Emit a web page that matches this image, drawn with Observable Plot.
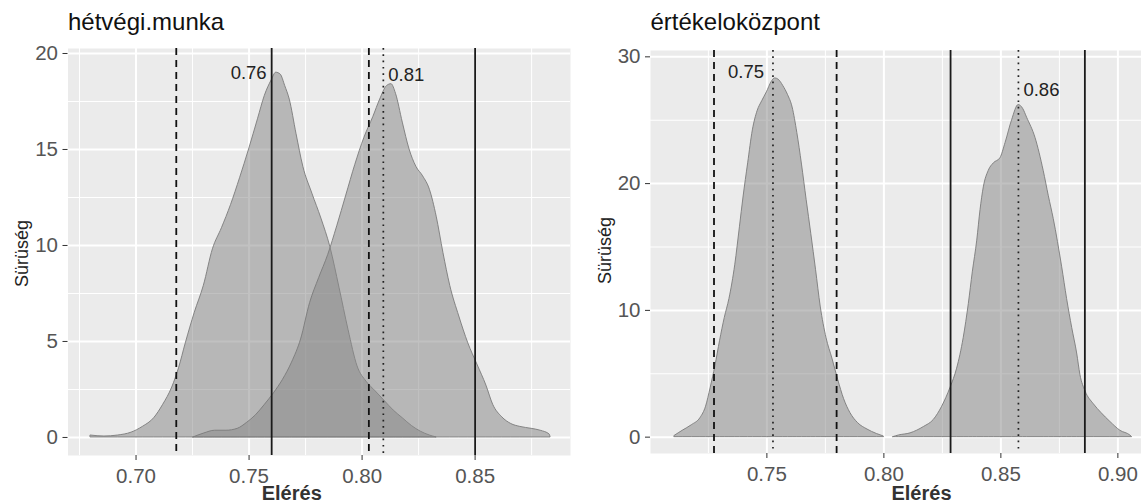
<!DOCTYPE html>
<html>
<head>
<meta charset="utf-8">
<script src="https://cdn.jsdelivr.net/npm/d3@7"></script>
<script src="https://cdn.jsdelivr.net/npm/@observablehq/plot@0.6"></script>
<style>
  html, body { margin: 0; padding: 0; background: #fff; }
  #wrap { position: relative; width: 1141px; height: 504px; overflow: hidden; background: #fff; }
  #left, #right { position: absolute; top: 0; }
  #left { left: 0; }
  #right { left: 570px; }
</style>
</head>
<body>
<div id="wrap"><div id="left"></div><div id="right"></div></div>
<script>
// ---------- DATA ----------
const titles = ["hétvégi.munka", "értékeloközpont"];
const xLabel = "Elérés";
const yLabel = "Sürüség";

// left panel (hétvégi.munka): two posterior densities
const leftA_x = [0.680,0.686,0.692,0.698,0.703,0.708,0.712,0.716,0.719,0.722,0.726,0.730,0.734,0.738,0.742,0.746,0.750,0.754,0.757,0.760,0.762,0.764,0.766,0.768,0.771,0.774,0.778,0.782,0.786,0.790,0.794,0.798,0.802,0.806,0.810,0.814,0.818,0.822,0.826,0.830,0.833];
const leftA_d = [0.1,0.05,0.1,0.25,0.55,1.0,1.7,2.6,3.6,4.9,6.5,7.9,9.8,10.9,12.1,13.5,15.0,16.6,17.8,18.6,19.0,18.9,18.3,17.6,15.8,14.1,12.7,11.4,9.9,7.8,5.6,3.7,2.9,2.4,1.9,1.4,1.0,0.6,0.3,0.1,0.0];
const leftB_x = [0.7254,0.730,0.735,0.740,0.745,0.749,0.753,0.757,0.761,0.765,0.769,0.773,0.777,0.781,0.785,0.789,0.793,0.797,0.801,0.805,0.808,0.811,0.813,0.815,0.818,0.821,0.824,0.827,0.830,0.833,0.836,0.839,0.843,0.847,0.851,0.855,0.858,0.862,0.866,0.870,0.875,0.879,0.883,0.8834];
const leftB_d = [0.0,0.2,0.35,0.35,0.45,0.75,1.15,1.7,2.3,3.0,3.9,5.1,7.0,8.3,9.5,11.0,12.6,14.2,15.6,16.7,17.6,18.3,18.4,17.9,16.4,15.0,14.1,13.6,12.9,11.5,9.6,7.9,6.3,4.9,3.8,2.7,1.7,1.05,0.7,0.55,0.45,0.35,0.15,0.0];
const leftDashed = [0.7178, 0.803];
const leftSolid = [0.760, 0.850];
const leftDotted = [0.8094];
const leftLabels = [{x: 0.760, y: 19.0, t: "0.76", side: "end"}, {x: 0.8094, y: 18.85, t: "0.81", side: "start"}];
const leftXTicks = [0.70, 0.75, 0.80, 0.85];
const leftXMinor = [0.675, 0.725, 0.775, 0.825, 0.875];
const leftYTicks = [0, 5, 10, 15, 20];
const leftYMinor = [2.5, 7.5, 12.5, 17.5];

// right panel (értékeloközpont)
const rightC_x = [0.7106,0.714,0.718,0.7216,0.724,0.726,0.728,0.730,0.732,0.734,0.7365,0.7385,0.740,0.742,0.744,0.746,0.748,0.750,0.752,0.7535,0.755,0.757,0.759,0.761,0.763,0.765,0.767,0.769,0.771,0.773,0.7755,0.778,0.7805,0.783,0.7857,0.789,0.793,0.797,0.800];
const rightC_d = [0.1,0.5,0.95,1.5,2.4,3.9,5.6,7.6,9.4,10.9,13.6,16.6,18.9,21.6,24.2,25.7,26.5,27.2,28.0,28.3,28.2,27.7,27.0,26.0,24.0,21.5,18.7,16.0,13.2,10.3,7.8,6.2,4.5,3.0,1.9,1.1,0.6,0.25,0.05];
const rightD_x = [0.8040,0.8064,0.8114,0.8171,0.8213,0.8249,0.8285,0.8313,0.8341,0.8363,0.838,0.8399,0.8413,0.8427,0.8448,0.847,0.8498,0.852,0.8548,0.8576,0.8595,0.8612,0.8648,0.8683,0.8705,0.8726,0.8762,0.8783,0.8805,0.8826,0.884,0.8862,0.8897,0.893,0.8968,0.9011,0.9054,0.9061];
const rightD_d = [0.0,0.13,0.3,0.8,1.35,2.4,3.9,5.4,7.8,10.5,13.0,15.5,17.9,19.7,21.0,21.6,22.0,23.2,25.0,26.2,25.9,25.2,23.6,21.0,19.0,17.2,13.4,10.9,8.6,6.6,4.9,3.6,2.6,1.9,1.2,0.5,0.12,0.0];
const rightDashed = [0.7274, 0.7798];
const rightSolid = [0.8285, 0.8859];
const rightDotted = [0.7526, 0.8575];
const rightLabels = [{x: 0.7526, y: 28.8, t: "0.75", side: "end"}, {x: 0.8575, y: 27.4, t: "0.86", side: "start"}];
const rightXTicks = [0.75, 0.80, 0.85, 0.90];
const rightXMinor = [0.725, 0.775, 0.825, 0.875];
const rightYTicks = [0, 10, 20, 30];
const rightYMinor = [5, 15, 25];

// ---------- CHART ----------
const FONT = "'Liberation Sans', Arial, Helvetica, sans-serif";
const zip = (xs, ds) => xs.map((v, i) => ({v, d: ds[i]}));

function panel(cfg) {
  const marks = [
    Plot.frame({fill: "#EBEBEB"}),
    Plot.ruleX(cfg.xMinor, {stroke: "#fff", strokeWidth: 1}),
    Plot.ruleY(cfg.yMinor, {stroke: "#fff", strokeWidth: 1}),
    Plot.ruleX(cfg.xTicks, {stroke: "#fff", strokeWidth: 2}),
    Plot.ruleY(cfg.yTicks, {stroke: "#fff", strokeWidth: 2})
  ];
  for (const c of cfg.curves) {
    marks.push(Plot.areaY(c, {x: "v", y: "d", fill: "#888", fillOpacity: 0.52, stroke: "#7a7a7a", strokeWidth: 0.9, curve: "monotone-x"}));
  }
  marks.push(
    Plot.ruleX(cfg.dashed, {stroke: "#111", strokeWidth: 1.8, strokeDasharray: "7,5"}),
    Plot.ruleX(cfg.dotted, {stroke: "#222", strokeWidth: 1.7, strokeDasharray: "1.7,4.6"}),
    Plot.ruleX(cfg.solid, {stroke: "#1a1a1a", strokeWidth: 1.8}),
    Plot.text(cfg.labels.filter(l => l.side === "end"), {x: "x", y: "y", text: "t", textAnchor: "end", dx: cfg.dxEnd, fontSize: 18.5, fill: "#222", fontFamily: FONT}),
    Plot.text(cfg.labels.filter(l => l.side === "start"), {x: "x", y: "y", text: "t", textAnchor: "start", dx: cfg.dxStart, fontSize: 18.5, fill: "#222", fontFamily: FONT}),
    Plot.axisX({ticks: cfg.xTicks, tickFormat: d => d.toFixed(2), tickSize: 5, tickPadding: 8, fontSize: 20.5, fill: "#555", stroke: "#333", label: null, fontFamily: FONT}),
    Plot.axisY({ticks: cfg.yTicks, tickFormat: d => String(d), tickSize: 5, tickPadding: 5, fontSize: 20.5, fill: "#555", stroke: "#333", label: null, fontFamily: FONT}),
    Plot.text([cfg.title], {frameAnchor: "top-left", textAnchor: "start", lineAnchor: "top", dy: cfg.titleDy, fontSize: 24, fill: "#111", fontFamily: FONT}),
    Plot.text([yLabel], {frameAnchor: "left", textAnchor: "middle", lineAnchor: "middle", rotate: -90, dx: cfg.yLabDx, dy: cfg.yLabDy, fontSize: 18, fill: "#222", fontFamily: FONT}),
    Plot.text([xLabel], {frameAnchor: "bottom", textAnchor: "middle", lineAnchor: "middle", dx: cfg.xLabDx, dy: cfg.xLabDy, fontSize: 20, fontWeight: "bold", fill: "#333", fontFamily: FONT})
  );
  return Plot.plot({
    width: cfg.width,
    height: 504,
    marginLeft: cfg.ml, marginRight: 0, marginTop: cfg.mt, marginBottom: cfg.mb,
    x: {domain: cfg.xDomain, axis: null},
    y: {domain: cfg.yDomain, axis: null},
    style: {fontFamily: FONT, background: "transparent", overflow: "visible"},
    marks
  });
}

document.getElementById("left").appendChild(panel({
  width: 570, ml: 67.5, mt: 48, mb: 49,
  xDomain: [0.6699, 0.8922], yDomain: [-0.94, 20.26],
  curves: [zip(leftA_x, leftA_d), zip(leftB_x, leftB_d)],
  dashed: leftDashed, solid: leftSolid, dotted: leftDotted, labels: leftLabels,
  xTicks: leftXTicks, xMinor: leftXMinor, yTicks: leftYTicks, yMinor: leftYMinor,
  dxEnd: -5, dxStart: 5,
  title: titles[0], titleDy: -36,
  yLabDx: -45.5, yLabDy: 1.5,
  xLabDx: -27.5, xLabDy: 38.5
}));

document.getElementById("right").appendChild(panel({
  width: 571, ml: 80, mt: 50, mb: 51,
  xDomain: [0.70026, 0.9101], yDomain: [-1.29, 30.5],
  curves: [zip(rightC_x, rightC_d), zip(rightD_x, rightD_d)],
  dashed: rightDashed, solid: rightSolid, dotted: rightDotted, labels: rightLabels,
  xTicks: rightXTicks, xMinor: rightXMinor, yTicks: rightYTicks, yMinor: rightYMinor,
  dxEnd: -9, dxStart: 5,
  title: titles[1], titleDy: -38,
  yLabDx: -45, yLabDy: -1.5,
  xLabDx: 25.5, xLabDy: 40.5
}));
</script>
</body>
</html>
